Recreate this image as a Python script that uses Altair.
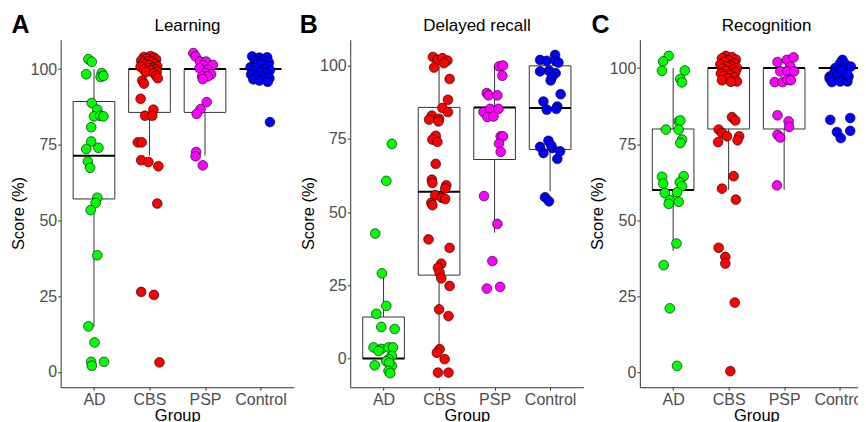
import altair as alt
import pandas as pd

GROUPS = ["AD", "CBS", "PSP", "Control"]
COLORS = ["#00FF00", "#FF0000", "#FF00FF", "#0000FF"]

# ---------------- Panel A : Learning ----------------
A_AD_score = [103.3, 102.4, 98.3, 98.7, 97.4, 97.8, 88.8, 86.6, 84.4, 84.6, 84.4, 80.8, 76.1, 73.6, 74.0,
              69.5, 67.4, 57.5, 55.8, 53.4, 38.5, 15.0, 9.7, 3.3, 2.0, 3.3]
A_AD_jit = [-0.10, -0.04, -0.14, 0.14, 0.12, 0.17, -0.04, 0.06, 0.00, 0.11, 0.17, -0.05, -0.05, -0.14, 0.08,
            -0.11, -0.07, 0.06, 0.03, -0.06, 0.06, -0.10, 0.01, -0.05, -0.04, 0.18]
A_CBS_score = [104.0, 104.3, 103.8, 103.5, 103.2, 102.8, 102.6, 102.4, 102.0, 101.8,
               101.5, 101.3, 101.0, 100.8, 100.5, 100.2, 100.0, 99.8, 99.5, 99.2,
               99.0, 98.6, 97.8, 97.0, 96.2, 95.2, 90.2, 86.6, 84.6, 84.6,
               75.8, 75.8, 69.9, 69.3, 67.9, 55.6, 26.4, 25.4, 3.1]
A_CBS_jit = [-0.10, 0.02, 0.08, -0.05, 0.12, -0.15, -0.02, 0.05, -0.12, 0.10,
             -0.07, 0.00, 0.14, -0.16, 0.06, -0.03, 0.11, -0.10, 0.03, 0.13,
             -0.06, 0.08, 0.12, 0.15, -0.13, -0.10, -0.16, 0.07, -0.08, 0.05,
             -0.21, -0.14, -0.15, -0.02, 0.16, 0.14, -0.15, 0.08, 0.18]
A_PSP_score = [105.3, 104.2, 102.5, 102.5, 101.2, 101.4, 100.3, 99.8, 98.7, 98.3,
               97.6, 97.6, 96.7, 89.1, 86.8, 85.2, 72.6, 71.2, 68.2]
A_PSP_jit = [-0.21, -0.17, -0.09, 0.02, -0.03, 0.14, -0.10, 0.05, 0.01, 0.11,
             -0.05, 0.05, -0.04, 0.03, -0.08, -0.15, -0.16, -0.17, -0.04]
A_CTL_score = [104.2, 103.8, 103.9, 103.0, 102.6, 102.2, 101.8, 101.5, 101.0, 100.6,
               100.3, 100.0, 99.6, 99.3, 99.0, 98.6, 98.2, 97.8, 97.4, 97.0,
               96.6, 96.2, 95.8, 82.5]
A_CTL_jit = [-0.15, -0.02, 0.12, 0.06, -0.10, 0.15, -0.05, 0.02, 0.14, -0.18,
             -0.08, 0.08, 0.17, -0.12, 0.00, 0.10, -0.17, -0.06, 0.05, 0.16,
             -0.13, -0.02, 0.13, 0.17]
A_Q1 = [57.1, 85.7, 85.7, 100.0]
A_MED = [71.4, 100.0, 100.0, 100.0]
A_Q3 = [89.3, 100.0, 100.0, 100.0]
A_WLO = [15.0, 71.4, 71.4, 100.0]
A_WHI = [100.0, 100.0, 100.0, 100.0]

# ---------------- Panel B : Delayed recall ----------------
B_AD_score = [73.3, 60.7, 42.7, 29.1, 18.0, 15.3, 10.8, 10.1, 3.8, 3.3,
              2.6, 3.8, 3.8, 0.9, -0.2, -0.9, -2.3, -2.5, -1.5, -4.2, -5.0]
B_AD_jit = [0.15, 0.05, -0.15, -0.03, 0.05, -0.13, -0.04, 0.20, -0.18, -0.04,
            -0.09, 0.09, 0.17, 0.15, 0.09, 0.05, -0.16, 0.15, 0.10, 0.09, 0.12]
B_CBS_score = [103.0, 102.0, 102.6, 101.8, 100.9, 99.4, 95.5, 88.4, 85.6, 84.2,
               83.0, 81.6, 81.9, 81.0, 76.1, 74.8, 74.0, 66.5, 61.1, 60.0,
               59.2, 58.1, 55.8, 54.9, 54.5, 53.2, 52.4, 40.7, 37.8, 32.4,
               31.0, 29.3, 27.4, 24.8, 16.8, 14.5, 3.2, 2.0, -0.2, -4.8, -4.8]
B_CBS_jit = [-0.11, -0.03, 0.06, 0.15, 0.09, -0.09, 0.19, 0.16, 0.06, 0.16,
             -0.13, -0.18, 0.00, -0.01, -0.06, -0.12, -0.03, -0.06, -0.13, -0.12,
             0.13, 0.11, -0.07, 0.05, 0.11, -0.14, -0.12, -0.19, 0.19, 0.04,
             -0.02, 0.01, 0.04, 0.19, 0.00, 0.17, 0.01, -0.04, 0.10, -0.02, 0.17]
B_PSP_score = [99.8, 100.1, 96.6, 90.7, 89.9, 89.9, 84.2, 85.3, 85.3, 82.5,
               82.7, 75.9, 75.9, 73.4, 70.6, 55.5, 46.0, 33.3, 23.9, 24.5]
B_PSP_jit = [0.08, 0.15, 0.14, -0.14, -0.11, 0.05, -0.20, -0.08, 0.07, -0.13,
             -0.02, 0.11, 0.15, 0.08, 0.11, -0.19, 0.05, -0.04, -0.14, 0.10]
B_CTL_score = [102.0, 101.7, 103.7, 101.7, 101.1, 98.1, 98.3, 97.5, 96.0, 95.0,
               90.3, 87.8, 85.0, 86.1, 85.3, 74.4, 72.3, 70.2, 71.9, 72.8,
               70.8, 68.2, 55.1, 53.7]
B_CTL_jit = [-0.18, -0.06, 0.09, 0.10, 0.15, -0.18, -0.02, 0.10, 0.03, 0.01,
             0.19, -0.12, -0.06, 0.13, 0.11, -0.03, -0.18, -0.12, 0.04, 0.02,
             0.18, 0.13, -0.09, -0.02]
B_Q1 = [0.0, 28.5, 68.0, 71.4]
B_MED = [0.0, 57.0, 85.8, 85.6]
B_Q3 = [14.2, 85.8, 85.8, 100.0]
B_WLO = [0.0, 2.0, 43.0, 57.2]
B_WHI = [28.4, 100.0, 100.0, 100.0]

# ---------------- Panel C : Recognition ----------------
C_AD_score = [104.0, 102.2, 99.1, 99.2, 96.4, 95.3, 82.5, 82.8, 79.8, 79.8,
              76.5, 75.4, 64.3, 64.5, 62.1, 62.5, 61.2, 59.0, 59.2, 56.6,
              55.4, 56.1, 42.4, 35.3, 21.1, 2.2]
C_AD_jit = [-0.08, -0.18, -0.20, 0.21, 0.13, 0.16, 0.10, 0.13, -0.13, 0.10,
            0.16, 0.13, -0.20, 0.19, -0.18, 0.12, 0.16, -0.15, 0.07, -0.06,
            -0.08, 0.10, 0.06, -0.17, -0.06, 0.07]
C_CBS_score = [104.0, 103.6, 103.2, 102.8, 102.5, 102.0, 101.6, 101.2, 100.8, 100.5,
               100.0, 99.8, 99.4, 99.0, 98.6, 98.2, 97.8, 97.4, 97.0, 96.6,
               96.0, 95.6, 95.5, 83.9, 82.8, 79.8, 78.7, 77.6, 77.6, 76.3,
               75.7, 64.5, 60.4, 56.8, 41.0, 38.0, 35.8, 23.0, 0.5]
C_CBS_jit = [-0.05, 0.06, -0.12, 0.13, 0.00, -0.08, 0.10, -0.15, 0.04, -0.03,
             0.15, -0.11, 0.08, -0.05, 0.12, -0.14, 0.02, -0.08, 0.10, -0.02,
             -0.12, 0.15, 0.04, 0.06, 0.12, -0.18, -0.12, -0.03, 0.19, 0.16,
             -0.19, 0.09, -0.12, 0.13, -0.18, -0.06, -0.06, 0.11, 0.03]
C_PSP_score = [102.0, 102.7, 103.5, 100.5, 98.9, 98.9, 98.9, 95.4, 95.4, 96.2,
               96.0, 84.5, 82.5, 80.7, 78.1, 77.2, 61.5]
C_PSP_jit = [-0.12, 0.05, 0.17, 0.11, -0.07, 0.06, 0.18, -0.17, -0.03, 0.06,
             0.12, -0.12, 0.08, 0.09, -0.12, -0.07, -0.13]
C_CTL_score = [102.7, 101.6, 101.3, 100.5, 100.0, 98.4, 97.2, 97.6, 97.8, 96.5,
               95.4, 95.6, 95.6, 97.2, 99.2, 98.0, 83.0, 83.6, 79.0, 77.0, 79.4]
C_CTL_jit = [0.05, 0.01, 0.10, 0.20, -0.08, -0.10, -0.18, -0.04, 0.10, -0.18,
             -0.14, 0.01, 0.14, 0.16, 0.04, 0.13, -0.17, 0.19, -0.05, 0.02, 0.19]
C_Q1 = [60.0, 80.0, 80.0, 100.0]
C_MED = [60.0, 100.0, 100.0, 100.0]
C_Q3 = [80.0, 100.0, 100.0, 100.0]
C_WLO = [40.0, 60.0, 60.0, 100.0]
C_WHI = [100.0, 100.0, 100.0, 100.0]

FONT = "Liberation Sans"
PLOT_W = 233.5
PLOT_H = 348
SPACING = 56


def panel(letter, letter_dx, title, scores, jits, q1, med, q3, wlo, whi, ydomain):
    rows = []
    for gi, (g, sc, jt) in enumerate(zip(GROUPS, scores, jits), start=1):
        for s, j in zip(sc, jt):
            rows.append({"group": g, "gi": gi, "score": s, "jit": j})
    pts_df = pd.DataFrame(rows)
    box_df = pd.DataFrame({"group": GROUPS, "gi": [1, 2, 3, 4], "q1": q1, "med": med,
                           "q3": q3, "wlo": wlo, "whi": whi})

    xscale = alt.Scale(domain=[0.4, 4.6], nice=False, zero=False)
    yscale = alt.Scale(domain=ydomain, nice=False, zero=False)
    xaxis = alt.Axis(values=[1, 2, 3, 4],
                     labelExpr="['AD','CBS','PSP','Control'][datum.value-1]",
                     title="Group")
    yaxis = alt.Axis(values=[0, 25, 50, 75, 100], title=None)

    base = alt.Chart(box_df).transform_calculate(xl="datum.gi - 0.375", xr="datum.gi + 0.375")
    rect = base.mark_rect(fill="white", stroke="#333333", strokeWidth=1).encode(
        x=alt.X("xl:Q", scale=xscale, axis=xaxis),
        x2="xr:Q",
        y=alt.Y("q1:Q", scale=yscale, axis=yaxis),
        y2="q3:Q",
    )
    wlo_r = base.mark_rule(color="#333333", strokeWidth=1).encode(
        x="gi:Q", y="wlo:Q", y2="q1:Q")
    whi_r = base.mark_rule(color="#333333", strokeWidth=1).encode(
        x="gi:Q", y="q3:Q", y2="whi:Q")
    med_r = base.mark_rule(color="black", strokeWidth=2).encode(
        x="xl:Q", x2="xr:Q", y="med:Q")

    pts = alt.Chart(pts_df).transform_calculate(xp="datum.gi + datum.jit").mark_circle(
        size=95, opacity=1, stroke="black", strokeWidth=0.6
    ).encode(
        x="xp:Q",
        y="score:Q",
        color=alt.Color("group:N", scale=alt.Scale(domain=GROUPS, range=COLORS), legend=None),
    )

    lab = alt.Chart(pd.DataFrame({"t": [letter]})).mark_text(
        align="left", baseline="alphabetic", fontSize=25, fontWeight="bold", font=FONT, color="black"
    ).encode(x=alt.value(letter_dx), y=alt.value(-7), text="t:N")

    ttl = alt.Chart(pd.DataFrame({"t": [title]})).mark_text(
        align="center", baseline="alphabetic", fontSize=17, font=FONT, color="black"
    ).encode(x=alt.value(127), y=alt.value(-8.5), text="t:N")

    ytl = alt.Chart(pd.DataFrame({"t": ["Score (%)"]})).mark_text(
        align="center", baseline="middle", angle=270, fontSize=16.5, font=FONT, color="black"
    ).encode(x=alt.value(-41.8), y=alt.value(PLOT_H / 2), text="t:N")

    return alt.layer(rect, wlo_r, whi_r, med_r, pts, lab, ttl, ytl).properties(
        width=PLOT_W, height=PLOT_H)


pA = panel("A", -49.3, "Learning",
           [A_AD_score, A_CBS_score, A_PSP_score, A_CTL_score],
           [A_AD_jit, A_CBS_jit, A_PSP_jit, A_CTL_jit],
           A_Q1, A_MED, A_Q3, A_WLO, A_WHI, [-5.1, 109.7])
pB = panel("B", -50.5, "Delayed recall",
           [B_AD_score, B_CBS_score, B_PSP_score, B_CTL_score],
           [B_AD_jit, B_CBS_jit, B_PSP_jit, B_CTL_jit],
           B_Q1, B_MED, B_Q3, B_WLO, B_WHI, [-9.8, 108.9])
pC = panel("C", -48.3, "Recognition",
           [C_AD_score, C_CBS_score, C_PSP_score, C_CTL_score],
           [C_AD_jit, C_CBS_jit, C_PSP_jit, C_CTL_jit],
           C_Q1, C_MED, C_Q3, C_WLO, C_WHI, [-4.8, 109.3])

# the third panel runs past the right edge of the page, as in the reference: clip it
chart = alt.hconcat(pA, pB, pC, spacing=SPACING, bounds="flush").properties(
    padding={"left": 2.75, "top": 4.5, "right": -15.5, "bottom": 0}
).configure_view(strokeWidth=0).configure_axis(
    grid=False,
    domainColor="#333333", domainWidth=1,
    tickColor="#333333", tickSize=3, tickWidth=1,
    labelColor="#4D4D4D", labelFontSize=16, labelFont=FONT, labelPadding=1,
    titleColor="black", titleFontSize=16.5, titleFont=FONT, titleFontWeight="normal",
).configure_axisX(titlePadding=0)

chart.save("out.html", embed_options={"renderer": "svg", "actions": False})
